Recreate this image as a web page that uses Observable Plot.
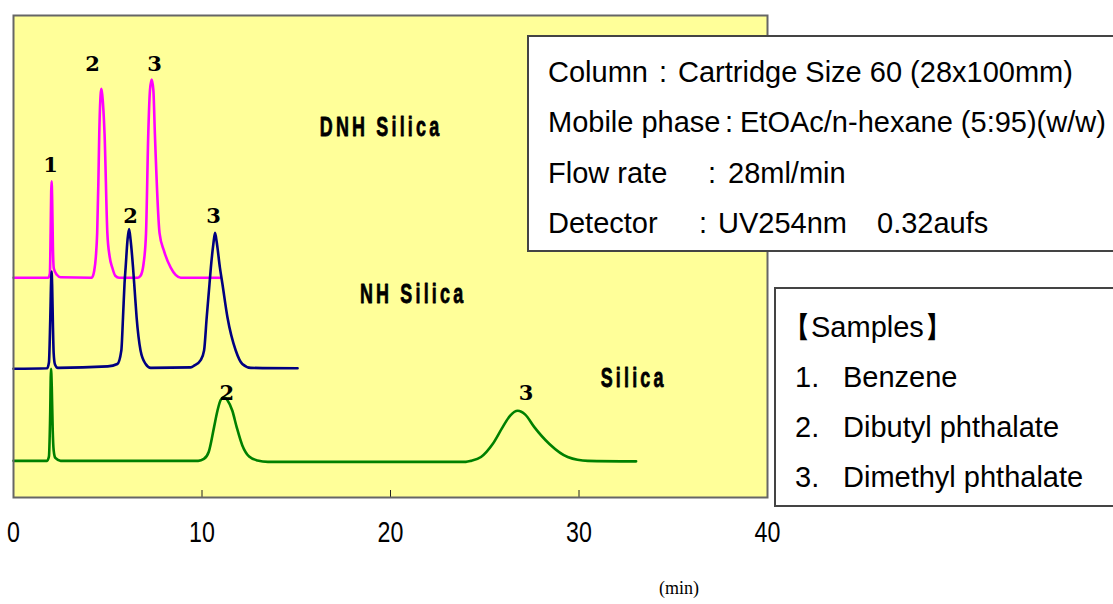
<!DOCTYPE html>
<html><head><meta charset="utf-8">
<script src="https://cdn.jsdelivr.net/npm/d3@7"></script>
<script src="https://cdn.jsdelivr.net/npm/@observablehq/plot@0.6"></script>
<style>
body{margin:0;background:#fff;}
#wrap{position:relative;width:1113px;height:604px;overflow:hidden;}
.box{position:absolute;background:#fff;border:2px solid #444;box-sizing:border-box;}
.t{position:absolute;font-family:"Liberation Sans",Arial,sans-serif;font-size:29px;line-height:1;color:#000;white-space:pre;transform:translateY(-50%);}
</style></head><body><div id="wrap"></div>
<script>
// ---- data (time in min, detector signal in arbitrary units, traces offset) ----
const seriesNames = ["DNH Silica", "NH Silica", "Silica"];
const seriesColors = ["#ff00ff", "#000080", "#008000"];

const dnhTime   = [0, 1.85, 1.93, 1.97, 2.0, 2.02, 2.05, 2.09, 2.14, 2.3, 2.5, 4.15, 4.28, 4.37, 4.44, 4.5, 4.55, 4.62, 4.66, 4.71, 4.83, 4.98, 5.1, 5.24, 5.4, 5.6, 6.6, 6.74, 6.9, 7.03, 7.15, 7.24, 7.33, 7.42, 7.5, 7.75, 7.98, 8.34, 8.6, 8.87, 11.0];
const dnhSignal = [45.6, 45.6, 46.5, 55, 63.5, 65.6, 62, 52, 47.5, 46.2, 45.7, 45.6, 47, 50, 55, 65, 75.5, 83.5, 84.8, 83.5, 75.5, 54.8, 50, 47.7, 46, 45.6, 45.6, 46, 48.5, 54.8, 75.5, 84.5, 86.7, 84.5, 75.5, 54.8, 51.2, 47.7, 46.2, 45.6, 45.6];

const nhTime   = [0, 1.78, 1.88, 1.95, 2.0, 2.02, 2.05, 2.09, 2.13, 2.2, 2.35, 5.0, 5.51, 5.72, 5.81, 5.89, 5.95, 6.05, 6.13, 6.21, 6.34, 6.43, 6.53, 6.74, 7.01, 7.28, 9.4, 9.6, 9.93, 10.11, 10.25, 10.4, 10.47, 10.6, 10.69, 10.78, 10.95, 11.08, 11.35, 11.79, 12.14, 12.59, 15.07];
const nhSignal = [26.7, 26.8, 28, 37, 45.5, 46.9, 44, 36, 30, 27.6, 26.9, 27.2, 27.7, 30.5, 37.4, 44.4, 47.8, 53.5, 55.7, 53.5, 47.8, 42.9, 37.4, 30.5, 27.7, 26.9, 27.0, 27.4, 28.5, 30.5, 37.4, 44.4, 47.7, 52.5, 54.9, 53, 47.7, 44.4, 37.4, 30.5, 27.7, 26.9, 26.8];

const silicaTime   = [0, 1.78, 1.88, 1.94, 1.99, 2.03, 2.08, 2.13, 2.22, 2.5, 9.8, 10.1, 10.36, 10.64, 10.82, 11.0, 11.17, 11.35, 11.61, 11.84, 12.14, 12.5, 12.94, 13.5, 24.0, 24.27, 24.8, 25.42, 25.95, 26.35, 26.75, 27.15, 27.63, 28.43, 29.4, 30.47, 33.03];
const silicaSignal = [7.6, 7.6, 8.5, 16, 26.7, 23, 14, 9.8, 8.2, 7.6, 7.6, 8, 9.5, 14.6, 18, 20.3, 20.8, 20.2, 18, 14.6, 10.8, 8.5, 7.7, 7.4, 7.4, 7.6, 8.4, 11.1, 14.6, 17, 18, 17.2, 14.6, 11.1, 8.4, 7.6, 7.5];

const xTicks = [0, 10, 20, 30, 40];
const xInnerTicks = [10, 20, 30];

// peak number labels
const peakLabelText   = ["1", "2", "3", "2", "3", "2", "3"];
const peakLabelTime   = [1.96, 4.2, 7.49, 6.21, 10.62, 11.31, 27.19];
const peakLabelHeight = [68.9, 89.8, 89.8, 58.3, 58.3, 21.6, 21.6];

// series name labels
const seriesLabelTime   = [19.5, 21.2, 32.9];
const seriesLabelHeight = [76.8, 42.3, 24.7];

const infoLines = [
  ["Column", ":", "Cartridge Size 60 (28x100mm)"],
  ["Mobile phase", ":", "EtOAc/n-hexane (5:95)(w/w)"],
  ["Flow rate", ":", "28ml/min"],
  ["Detector", ":", "UV254nm", "0.32aufs"]
];
const sampleTitle = "【Samples】";
const sampleNums = ["1.", "2.", "3."];
const sampleNames = ["Benzene", "Dibutyl phthalate", "Dimethyl phthalate"];

// ---- build table ----
const rows = [];
[[dnhTime, dnhSignal], [nhTime, nhSignal], [silicaTime, silicaSignal]].forEach(([ts, vs], k) => {
  ts.forEach((t, i) => rows.push({series: seriesNames[k], t, v: vs[i]}));
});

const idxPeak = d3.range(peakLabelText.length);
const idxSeries = d3.range(seriesNames.length);

const chart = Plot.plot({
  width: 1113, height: 604,
  marginLeft: 13, marginRight: 346, marginTop: 15, marginBottom: 107,
  style: {background: "transparent", overflow: "visible"},
  x: {domain: [0, 40]},
  y: {domain: [0, 100], axis: null},
  color: {domain: seriesNames, range: seriesColors},
  marks: [
    Plot.frame({fill: "#ffff99", stroke: null}),
    Plot.axisX({anchor: "top", frameAnchor: "bottom", ticks: xInnerTicks, tickSize: 8, tickFormat: () => "", label: null, stroke: "#222"}),
    Plot.axisX({anchor: "bottom", ticks: xTicks, tickSize: 0, tickPadding: 24, label: null,
      fontSize: 29, fontFamily: "'Liberation Sans',Arial,sans-serif", fill: "#000"}),
    Plot.line(rows, {x: "t", y: "v", z: "series", stroke: "series", strokeWidth: 2.6, curve: "monotone-x"}),
    Plot.text(idxPeak, {x: i => peakLabelTime[i], y: i => peakLabelHeight[i], text: i => peakLabelText[i],
      fontSize: 21, fontWeight: "bold", fontFamily: "'DejaVu Serif','Liberation Serif',serif", fill: "#000"}),
    Plot.text(idxSeries, {x: i => seriesLabelTime[i], y: i => seriesLabelHeight[i], text: i => seriesNames[i],
      fontSize: 28, fontWeight: "bold", fontFamily: "'Liberation Sans',Arial,sans-serif", fill: "#000",
      stroke: "#000", strokeWidth: 0.8}),
    Plot.text(["(min)"], {x: 35.3, frameAnchor: "bottom", dy: 96, fontSize: 18,
      fontFamily: "'Liberation Serif','DejaVu Serif',serif", fill: "#000"}),
    Plot.frame({stroke: "#666", strokeWidth: 2})
  ]
});
// condensed look of the original's Japanese gothic font
function condense(labels, sx, spacing) {
  d3.select(chart).selectAll("text").filter(function() {
    return labels.includes(this.textContent);
  }).each(function() {
    const el = d3.select(this);
    const tr = el.attr("transform");
    if (tr) el.attr("transform", tr + ` scale(${sx},1)`);
    else el.attr("transform", `scale(${sx},1)`).attr("x", (+el.attr("x") || 0) / sx);
    if (spacing) el.attr("letter-spacing", spacing);
  });
}
condense(xTicks.map(String), 0.8, null);
condense(seriesNames, 0.64, 5);

const wrap = document.getElementById("wrap");
wrap.appendChild(chart);

function addDiv(cls, css, text) {
  const d = document.createElement("div");
  d.className = cls;
  Object.assign(d.style, css);
  if (text != null) d.textContent = text;
  wrap.appendChild(d);
  return d;
}
// info box
addDiv("box", {left: "527px", top: "35px", width: "600px", height: "217px"});
const infoY = [72, 122, 173, 223];
const infoX = [[548, 659, 678], [548, 725, 740], [548, 708, 728], [548, 699, 718, 877]];
infoLines.forEach((parts, i) => {
  parts.forEach((p, j) => addDiv("t", {left: infoX[i][j] + "px", top: infoY[i] + "px"}, p));
});
// samples box
addDiv("box", {left: "774px", top: "287px", width: "360px", height: "220px"});
addDiv("t", {left: "782px", top: "327px"}, sampleTitle);
sampleNames.forEach((n, i) => {
  addDiv("t", {left: "795px", top: (377 + 50 * i) + "px"}, sampleNums[i]);
  addDiv("t", {left: "843px", top: (377 + 50 * i) + "px"}, n);
});
</script>
</body></html>
